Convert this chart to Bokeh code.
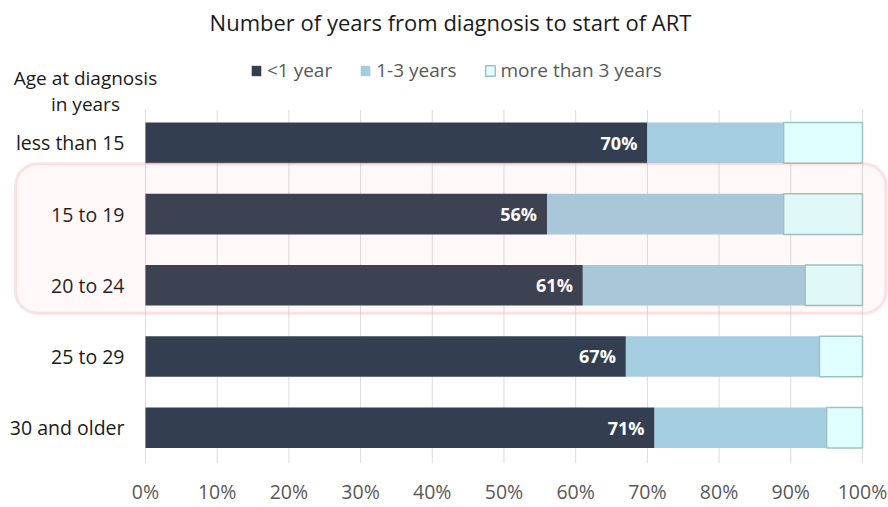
from bokeh.plotting import figure
from bokeh.models import (ColumnDataSource, BoxAnnotation, Legend, LegendItem,
                          FixedTicker, PrintfTickFormatter, Range1d)
from bokeh.core.properties import value
from bokeh.embed import file_html
from bokeh.resources import INLINE

# ---------------- data ----------------
title = "Number of years from diagnosis to start of ART"
header = ["Age at diagnosis", "in years"]
categories = ["less than 15", "15 to 19", "20 to 24", "25 to 29", "30 and older"]
series = ["<1 year", "1-3 years", "more than 3 years"]
under_1 = [70, 56, 61, 67, 71]
one_to_3 = [19, 33, 31, 27, 24]
over_3 = [11, 11, 8, 6, 5]
x_ticks = [0, 10, 20, 30, 40, 50, 60, 70, 80, 90, 100]
highlight = ["15 to 19", "20 to 24"]

# ---------------- style ----------------
FONT = "Open Sans"
colors = ["#333f50", "#a5cde0", "#e0ffff"]
edge = [None, None, "#9cc2be"]

ypos = list(range(len(categories) - 1, -1, -1))   # top row first

p = figure(width=888, height=507, output_backend="svg", toolbar_location=None,
           x_range=Range1d(-20.22, 103.63), y_range=Range1d(-0.503, 6.0),
           min_border=0, min_border_bottom=42, outline_line_color=None,
           y_axis_location=None)
p.xgrid.visible = False
p.ygrid.visible = False

ax = p.xaxis[0]
ax.ticker = FixedTicker(ticks=x_ticks)
ax.formatter = PrintfTickFormatter(format="%d%%")
ax.axis_line_color = None
ax.major_tick_line_color = None
ax.minor_tick_line_color = None
ax.major_tick_out = 0
ax.major_label_standoff = 14
ax.major_label_text_font = FONT
ax.major_label_text_font_size = "19.5px"
ax.major_label_text_color = "#595959"

# vertical grid lines (only in the bar area)
p.segment(x0=x_ticks, x1=x_ticks, y0=[ypos[-1] - 0.5] * len(x_ticks),
          y1=[ypos[0] + 0.46] * len(x_ticks), line_color="#dcdcdc", line_width=1)

src = ColumnDataSource(dict(y=ypos, under_1=under_1, one_to_3=one_to_3, over_3=over_3,
                            lab=[f"{v}%" for v in under_1], cat=categories))
rs = p.hbar_stack(["under_1", "one_to_3", "over_3"], y="y", height=0.57,
                  fill_color=colors, line_color=edge, line_width=1.5, source=src)

# value labels inside the dark segment
p.text(x="under_1", y="y", text="lab", source=src, x_offset=-10,
       text_align="right", text_baseline="middle", text_color="white",
       text_font=value(FONT), text_font_style="bold", text_font_size="18px")

# category labels
p.text(x=0, y="y", text="cat", source=src, x_offset=-21,
       text_align="right", text_baseline="middle", text_color="#1a1a1a",
       text_font=value(FONT), text_font_size="19.5px")

# header of the category column
p.text(x=[-8.37, -8.37], y=[ypos[0] + 0.909, ypos[0] + 0.545], text=header,
       text_align="center", text_baseline="middle", text_color="#1a1a1a",
       text_font=value(FONT), text_font_size="19px")

# chart title
p.text(x=[42.54], y=[ypos[0] + 1.692], text=[title],
       text_align="center", text_baseline="middle", text_color="#1a1a1a",
       text_font=value(FONT), text_font_size="22px")

# highlight box around the young-adult rows
hy = [ypos[categories.index(c)] for c in highlight]
box = BoxAnnotation(left=-18.13, right=103.3, top=max(hy) + 0.706, bottom=min(hy) - 0.392,
                    fill_color="#f08080", fill_alpha=0.055,
                    line_color="#f4a4a4", line_width=3, border_radius=22)
p.add_layout(box)

legend = Legend(items=[LegendItem(label=s, renderers=[r]) for s, r in zip(series, rs)],
                orientation="horizontal", location=(250, 380),
                background_fill_alpha=0, border_line_color=None,
                label_text_font=FONT, label_text_font_size="19px",
                label_text_color="#595959", glyph_width=12, glyph_height=13,
                label_standoff=5, spacing=27, padding=0, margin=0)
p.add_layout(legend)

open("out.html", "w").write(file_html(p, INLINE))
